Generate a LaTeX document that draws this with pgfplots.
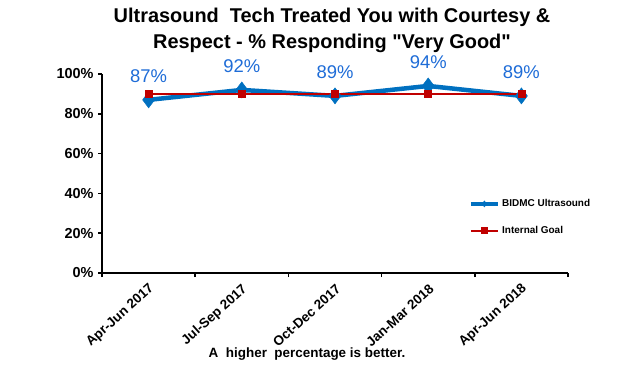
\documentclass[border=0pt]{standalone}
\usepackage{pgfplots}
\pgfplotsset{compat=1.18}
\usepackage{fontspec}
\setmainfont{Liberation Sans}[Ligatures=TeXOff]
\definecolor{ublue}{RGB}{0,112,192}
\definecolor{lblue}{RGB}{30,108,215}
\definecolor{gred}{RGB}{192,0,0}
\begin{document}
\begin{tikzpicture}
\path[use as bounding box] (0,0) rectangle (620bp,375bp);
\node[font=\bfseries\fontsize{20}{26}\selectfont, align=center, anchor=center] at (332bp,345bp)
  {Ultrasound\ \ Tech Treated You with Courtesy \&\\Respect - \% Responding "Very Good"};
\node[font=\bfseries\fontsize{13.5}{16}\selectfont] at (307bp,21bp) {A\ \ higher\ \ percentage is better.};
\begin{axis}[
  at={(102bp,102bp)}, anchor=south west,
  scale only axis, width=466bp, height=199bp,
  xmin=0, xmax=5, ymin=0, ymax=100,
  axis lines=left, axis line style={line width=1.6pt, -},
  xtick={0.5,1.5,2.5,3.5,4.5},
  xticklabels={Apr-Jun 2017,Jul-Sep 2017,Oct-Dec 2017,Jan-Mar 2018,Apr-Jun 2018},
  major x tick style={draw=none},
  minor xtick={0,1,2,3,4,5},
  minor tick length=4bp,
  x tick style={line width=1.6pt, black},
  xticklabel style={rotate=42, anchor=east, font=\bfseries\fontsize{13.5}{15}\selectfont, xshift=-1bp, yshift=-10bp},
  ytick={0,20,40,60,80,100},
  yticklabels={0\%,20\%,40\%,60\%,80\%,100\%},
  y tick style={line width=1.6pt, black},
  major tick length=4bp,
  tick align=outside,
  yticklabel style={font=\bfseries\fontsize{14.5}{16}\selectfont, xshift=-1bp},
  /pgf/number format/assume math mode=true,
  clip=false,
  legend style={at={(0.78,0.28)}, anchor=west, draw=none, fill=none,
    font=\bfseries\fontsize{10}{12}\selectfont, row sep=14bp,
    /tikz/every even column/.append style={column sep=0pt}},
  legend cell align=left,
  legend image code/.code={
    \draw[#1, mark repeat=2, mark phase=2, mark size=3bp] plot coordinates {(0bp,0bp) (13.5bp,0bp) (27bp,0bp)};
  },
]
\addplot[color=ublue, line width=4.5bp, mark=diamond*, mark size=8bp, mark options={line width=0.5pt},
  nodes near coords={\pgfmathprintnumber{\pgfplotspointmeta}\%},
  point meta=explicit symbolic,
  every node near coord/.append style={font=\fontsize{18.5}{20}\selectfont, text=lblue, anchor=south, yshift=14bp}]
  coordinates {(0.5,87) [87] (1.5,92) [92] (2.5,89) [89] (3.5,94) [94] (4.5,89) [89]};
\addlegendentry{BIDMC Ultrasound}
\addplot[color=gred, line width=1.8pt, mark=square*, mark size=3.5bp, mark options={line width=0.5pt}]
  coordinates {(0.5,90) (1.5,90) (2.5,90) (3.5,90) (4.5,90)};
\addlegendentry{Internal Goal}
\end{axis}
\end{tikzpicture}
\end{document}
